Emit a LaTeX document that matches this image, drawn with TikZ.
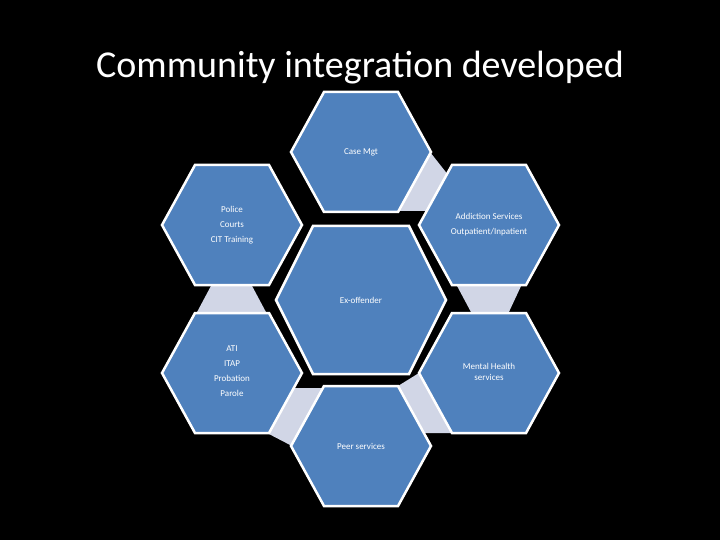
\documentclass[tikz,border=0pt]{standalone}
\usepackage{fontspec}
\setmainfont{Carlito}
\definecolor{hexblue}{HTML}{4F81BD}
\definecolor{linkgray}{HTML}{D1D6E6}
\begin{document}
\begin{tikzpicture}[x=1pt,y=-1pt,
  hexa/.style={fill=hexblue,draw=white,line width=2.5pt,line join=miter},
  link/.style={fill=linkgray},
  lbl/.style={text=white,font=\fontsize{9}{15}\selectfont,align=center}]
\fill[black] (0,0) rectangle (720,540);
\useasboundingbox (0,0) rectangle (720,540);
\node[text=white,font=\fontsize{38}{44}\selectfont] (title) at (360,68) {Community integration developed};
% links
\fill[link] (430,152) -- (460,190) -- (440,211) -- (398,211) -- cycle;
\fill[link] (212,284) -- (251,284) -- (267,314) -- (196,314) -- cycle;
\fill[link] (456,284) -- (522,284) -- (508,314) -- (472,314) -- cycle;
\fill[link] (293,388) -- (325,388) -- (292,446) -- (267,433) -- cycle;
\fill[link] (419,373) -- (452,433) -- (423,433) -- (398,386) -- cycle;
% hexagons
\newcommand\hexat[5]{% name, cx, cy, a, b, h
  \draw[hexa] ({#2-#4},#3) -- ({#2-37},{#3-60}) -- ({#2+37},{#3-60}) -- ({#2+#4},#3) -- ({#2+37},{#3+60}) -- ({#2-37},{#3+60}) -- cycle;}
\hexat{c}{361}{152}{70}{}
\hexat{p}{232}{225}{70}{}
\hexat{a}{489}{225}{70}{}
\hexat{t}{232}{373}{70}{}
\hexat{m}{489}{373}{70}{}
\hexat{s}{361}{446}{70}{}
\draw[hexa] (276,300) -- (313,226) -- (409,226) -- (446,300) -- (409,374) -- (313,374) -- cycle;
\node[lbl] (casemgt) at (361,152) {Case Mgt};
\node[lbl] (police) at (232,225) {Police\\Courts\\CIT Training};
\node[lbl] (addict) at (489,225) {Addiction Services\\Outpatient/Inpatient};
\node[lbl] (exoff) at (361,300) {Ex-offender};
\node[lbl] (ati) at (232,371) {ATI\\ITAP\\Probation\\Parole};
\node[lbl,font=\fontsize{9}{11}\selectfont] (mental) at (489,372) {Mental Health\\services};
\node[lbl] (peer) at (361,446) {Peer services};
\end{tikzpicture}
\end{document}
